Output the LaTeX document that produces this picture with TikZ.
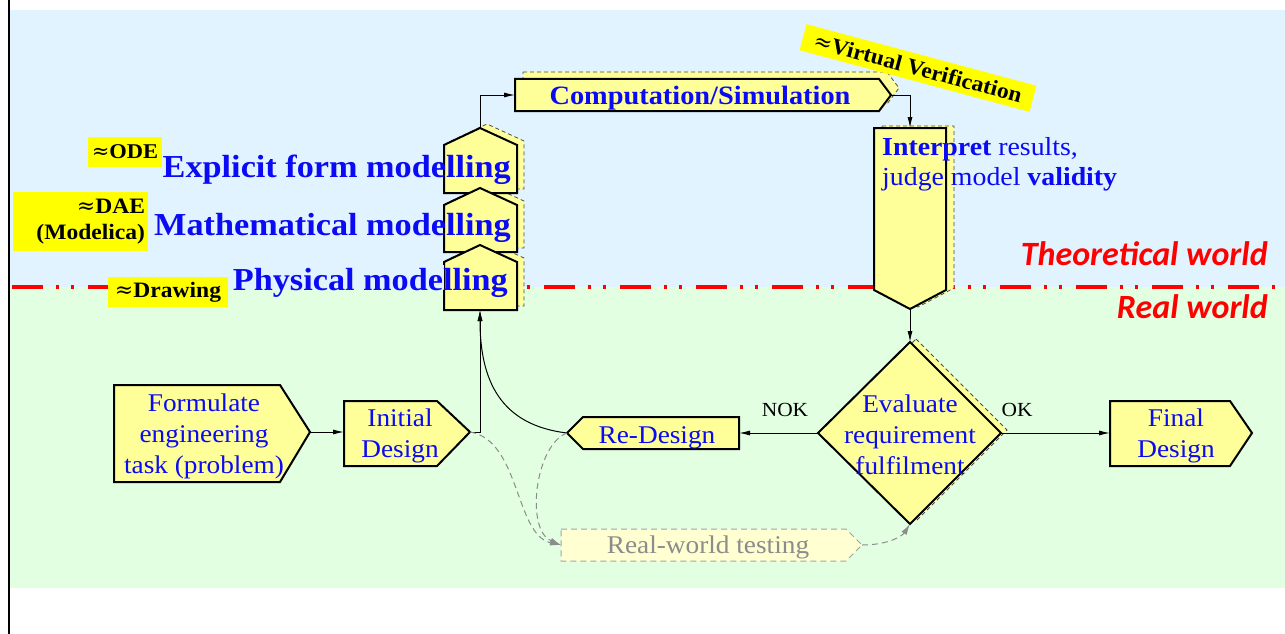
\documentclass[tikz,border=0pt]{standalone}
\usepackage{fontspec}
\setmainfont{Liberation Serif}[FakeStretch=1.07]
\newfontfamily\worldfont{Carlito}
\newfontfamily\approxfont{DejaVu Serif}
\newcommand\apx{{\approxfont\mdseries ≈}}
\usetikzlibrary{arrows.meta}
\definecolor{bgblue}{HTML}{E1F3FE}
\definecolor{bggreen}{HTML}{E2FFE2}
\definecolor{boxyellow}{HTML}{FFFF99}
\definecolor{labyellow}{HTML}{FFFF00}
\definecolor{txtblue}{HTML}{0A0AF5}
\definecolor{rwfill}{HTML}{FFFFD2}
\definecolor{rwgray}{HTML}{8C8C8C}
\newcommand\houseshape[2]{(444,#1+17) -- (480,#1) -- (517,#1+17) -- (517,#2) -- (444,#2) -- cycle}
\begin{document}
\begin{tikzpicture}[x=1pt,y=-1pt,
  box/.style={draw=black, line width=2pt, fill=boxyellow, line join=miter},
  shadowbox/.style={draw=black!70, dash pattern=on 4pt off 3pt, line width=0.8pt, fill=boxyellow},
  txt/.style={text=txtblue, font=\fontsize{25.5}{31}\selectfont, align=center, inner sep=0},
  big/.style={text=txtblue, font=\bfseries\fontsize{32}{36}\selectfont, inner sep=0, anchor=base east},
  lab/.style={fill=labyellow, font=\bfseries\fontsize{22}{26}\selectfont, inner sep=0},
  world/.style={text=red, font=\worldfont\bfseries\itshape\fontsize{34}{40}\selectfont, inner sep=0, anchor=base east},
  conn/.style={line width=1pt, -{Latex[length=11pt,width=5pt]}},
  gconn/.style={draw=rwgray, line width=1pt, dash pattern=on 6pt off 4pt, -{Latex[length=11pt,width=6pt]}},
  lbl/.style={font=\fontsize{20}{23}\selectfont, inner sep=0}]
\useasboundingbox (0,0) rectangle (1285,634);
% backgrounds
\fill[white] (0,0) rectangle (1285,634);
\fill[bgblue] (10,10) rectangle (1285,287);
\fill[bggreen] (10,287) rectangle (1285,588);
\draw[line width=2pt] (8.5,0) -- (8.5,634);
% red border line
\draw[red, line width=4pt, dash pattern=on 31pt off 13pt on 3pt off 12pt on 3pt off 14pt] (12,287) -- (1276,287);
% shadows
\draw[shadowbox, shift={(7,-4)}] \houseshape{128}{193};
\draw[shadowbox, shift={(7,-4)}] \houseshape{188}{252};
\draw[shadowbox, shift={(7,-4)}] \houseshape{245}{310};
\draw[shadowbox, shift={(8,-7)}] (515,79) -- (879,79) -- (891,95) -- (879,111) -- (515,111) -- cycle;
\draw[shadowbox, shift={(8,-2)}] (874,128) -- (946,128) -- (946,290) -- (910,309) -- (874,290) -- cycle;
\draw[shadowbox, shift={(6,-3)}] (910,342) -- (1001,433) -- (910,524) -- (818,433) -- cycle;
% boxes
\draw[box] \houseshape{128}{193};
\draw[box] \houseshape{188}{252};
\draw[box] \houseshape{245}{310};
\draw[box] (515,79) -- (879,79) -- (891,95) -- (879,111) -- (515,111) -- cycle;
\draw[box] (874,128) -- (946,128) -- (946,290) -- (910,309) -- (874,290) -- cycle;
\draw[box] (910,342) -- (1001,433) -- (910,524) -- (818,433) -- cycle;
\draw[box] (114,385) -- (280,385) -- (310,432) -- (280,482) -- (114,482) -- cycle;
\draw[box] (344,401) -- (437,401) -- (470,432) -- (437,466) -- (344,466) -- cycle;
\draw[box] (1110,401) -- (1230,401) -- (1252,433) -- (1230,466) -- (1110,466) -- cycle;
\draw[box] (567,433) -- (583,417) -- (739,417) -- (739,449) -- (583,449) -- cycle;
\draw[draw=rwgray!80, fill=rwfill, line width=1pt, dash pattern=on 6pt off 4pt] (561,529) -- (846,529) -- (862,545) -- (846,561) -- (561,561) -- cycle;
% ports
\coordinate (expTop) at (480,128);
\coordinate (phyBot) at (480,310);
\coordinate (compIn) at (515,95);
\coordinate (compTip) at (891,95);
\coordinate (intTop) at (910,128);
\coordinate (intBot) at (910,309);
\coordinate (evTop) at (910,342);
\coordinate (evLeft) at (818,433);
\coordinate (evRight) at (1001,433);
\coordinate (evBot) at (910,524);
\coordinate (formTip) at (310,432);
\coordinate (initIn) at (344,432);
\coordinate (initTip) at (470,432);
\coordinate (finIn) at (1110,433);
\coordinate (redTip) at (567,433);
\coordinate (redIn) at (739,433);
\coordinate (rwIn) at (561,545);
\coordinate (rwTip) at (862,545);
% texts
\fill[bgblue] (229,265) rectangle (444,290);
\node[big] (explicit) at (511,177) {Explicit form modelling};
\node[big] (math) at (511,235) {Mathematical modelling};
\node[big] (phys) at (508,290) {Physical modelling};
\node[lab, minimum width=74, minimum height=30, font=\bfseries\fontsize{21}{26}\selectfont] (ode) at (125,152) {\apx ODE};
\node[lab, minimum height=59, text width=129, inner xsep=3, align=right] (dae) at (80.5,221.5) {\apx DAE\\(Modelica)};
\node[lab, minimum width=120, minimum height=30] (drawing) at (168,292) {\apx Drawing};
\node[lab, minimum width=238, minimum height=27, rotate=-15] (vv) at (918,68) {\apx Virtual Verification};
\node[txt, font=\bfseries\fontsize{26.5}{31}\selectfont, anchor=base] (comp) at (700,104) {Computation/Simulation};
\node[txt, align=left, anchor=west, font=\fontsize{26}{30}\selectfont] (interp) at (882,164) {\textbf{Interpret} results,\\judge model \textbf{validity}};
\node[txt] (form) at (204,436) {Formulate\\engineering\\task (problem)};
\node[txt] (init) at (400,436) {Initial\\Design};
\node[txt] (final) at (1176,436) {Final\\Design};
\node[txt, anchor=base] (redes) at (657,443) {Re-Design};
\node[txt] (eval) at (910,435) {Evaluate\\requirement\\fulfilment};
\node[txt, text=rwgray, anchor=base] (rw) at (708,553) {Real-world testing};
\node[world] (theo) at (1268,265) {Theoretical world};
\node[world] (real) at (1268,318) {Real world};
% connectors
\draw[conn] (formTip) -- (initIn);
\draw[conn] (initTip) -- (480,432) -- (phyBot);
\draw[conn] (redTip) .. controls (500,425) and (480,380) .. (phyBot);
\draw[conn] (expTop) -- (480,95) -- (compIn);
\draw[conn] (compTip) -- (910,95) -- (intTop);
\draw[conn] (intBot) -- (evTop);
\draw[conn] (evLeft) -- (redIn);
\draw[conn] (evRight) -- (finIn);
\node[lbl] (nok) at (785,410) {NOK};
\node[lbl] (ok) at (1017,410) {OK};
\draw[gconn] (initTip) .. controls (520,440) and (515,535) .. (rwIn);
\draw[gconn] (redTip) .. controls (535,445) and (525,530) .. (rwIn);
\draw[gconn] (rwTip) .. controls (890,545) and (903,535) .. (evBot);
\end{tikzpicture}
\end{document}
